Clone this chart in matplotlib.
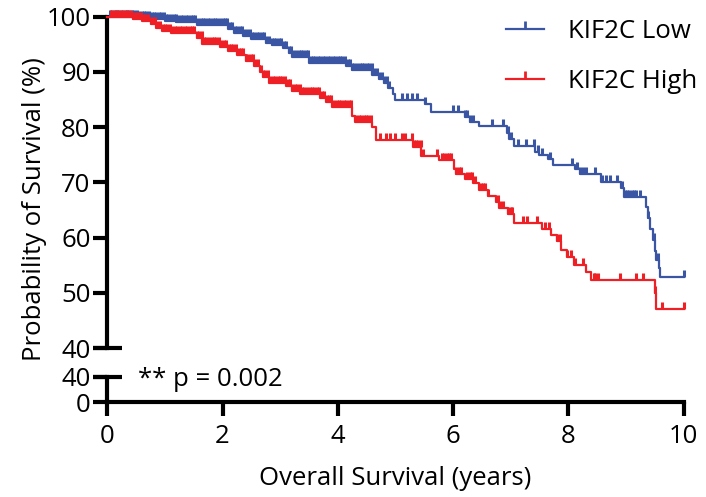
# Kaplan-Meier: KIF2C Low vs High, eje y partido

import matplotlib.pyplot as plt
from matplotlib.lines import Line2D
import numpy as np

plt.rcParams['font.family'] = ['Open Sans', 'DejaVu Sans']

# Curva KIF2C Low (tiempo en años, supervivencia en %)
low_t = [0, 0.55, 0.75, 1.0, 1.2, 1.55, 2.1, 2.2, 2.35, 2.5, 2.75, 2.85, 3.05, 3.15,
         3.2, 3.5, 4.15, 4.25, 4.6, 4.72, 4.8, 4.88, 4.95, 5.0, 5.52, 5.62, 6.2, 6.3,
         6.45, 6.93, 6.97, 7.05, 7.43, 7.5, 7.64, 7.73, 8.12, 8.2, 8.56, 8.92, 8.96,
         9.35, 9.38, 9.42, 9.47, 9.5, 9.53, 9.57, 9.6, 10.0]
low_s = [100, 99.8, 99.6, 99.3, 99.0, 98.5, 97.8, 97.0, 96.5, 96.0, 95.3, 94.9, 94.3, 93.4,
         92.7, 91.6, 91.0, 90.3, 89.5, 88.8, 88.0, 87.0, 86.0, 85.0, 84.2, 82.8, 81.8, 81.0,
         80.2, 79.0, 77.8, 76.5, 75.5, 75.0, 74.2, 73.2, 72.4, 71.6, 70.0, 68.9, 67.3,
         65.5, 63.5, 61.5, 59.5, 57.5, 55.9, 54.5, 52.8, 52.8]
low_cens = [0.05, 0.09, 0.13, 0.17, 0.21, 0.26, 0.3, 0.34, 0.38, 0.42, 0.47, 0.51, 0.55,
            0.6, 0.64, 0.68, 0.72, 0.77, 0.81, 0.85, 0.89, 0.94, 0.98, 1.02, 1.06, 1.11,
            1.15, 1.19, 1.23, 1.28, 1.32, 1.36, 1.4, 1.45, 1.49, 1.53, 1.57, 1.62, 1.66,
            1.7, 1.74, 1.79, 1.83, 1.87, 1.91, 1.96, 2.0, 2.04, 2.08, 2.13, 2.17, 2.21,
            2.25, 2.3, 2.34, 2.38, 2.42, 2.47, 2.51, 2.55, 2.59, 2.64, 2.68, 2.72, 2.76,
            2.81, 2.85, 2.89, 2.93, 2.98, 3.02, 3.06, 3.1, 3.15, 3.19, 3.23, 3.27, 3.32,
            3.36, 3.4, 3.44, 3.49, 3.53, 3.57, 3.61, 3.66, 3.7, 3.74, 3.78, 3.83, 3.87,
            3.91, 3.95, 4.0, 4.04, 4.08, 4.12, 4.17, 4.21, 4.25, 4.29, 4.34, 4.38, 4.42,
            4.46, 4.51, 4.55, 4.59, 4.63, 4.68, 4.72, 4.76, 4.8, 4.85, 4.89,
            5.12, 5.2, 5.28, 5.38, 5.52, 6.0, 6.09, 6.2, 6.25, 6.3, 6.35, 6.68, 6.87,
            6.95, 7.0, 7.12, 7.26, 7.4, 7.48, 7.55, 7.69, 8.07, 8.16, 8.2, 8.25, 8.3,
            8.47, 8.59, 8.65, 8.73, 8.85, 8.94, 8.98, 9.02, 9.06, 9.1, 9.14, 9.18, 9.25,
            9.38, 9.48, 9.55, 10.0]

# Curva KIF2C High
high_t = [0, 0.45, 0.6, 0.75, 0.85, 0.95, 1.1, 1.55, 1.65, 1.95, 2.1, 2.25, 2.4, 2.55,
          2.65, 2.7, 2.8, 3.1, 3.2, 3.35, 3.7, 3.8, 3.9, 4.25, 4.3, 4.6, 4.67, 5.3, 5.45,
          5.75, 6.02, 6.05, 6.2, 6.35, 6.45, 6.6, 6.75, 6.8, 6.95, 7.05, 7.55, 7.7, 7.8,
          7.88, 7.98, 8.1, 8.3, 8.4, 9.5, 9.53, 10.0]
high_s = [100, 99.6, 99.2, 98.6, 98.0, 97.4, 97.0, 96.2, 95.0, 94.5, 93.8, 93.0, 92.0, 91.0,
          90.0, 89.0, 88.0, 87.4, 86.6, 86.0, 85.3, 84.5, 83.6, 82.0, 81.0, 80.0, 77.6, 76.4,
          74.8, 74.0, 72.5, 71.5, 70.6, 69.8, 68.7, 67.6, 66.5, 65.3, 64.3, 62.7, 61.6,
          60.5, 59.3, 57.8, 56.5, 55.0, 53.8, 52.4, 50.0, 47.0, 47.0]
high_cens = [0.07, 0.11, 0.15, 0.19, 0.24, 0.28, 0.32, 0.36, 0.41, 0.45, 0.49, 0.53, 0.58,
             0.62, 0.66, 0.7, 0.75, 0.79, 0.83, 0.87, 0.92, 0.96, 1.0, 1.04, 1.09, 1.13,
             1.17, 1.21, 1.26, 1.3, 1.34, 1.38, 1.43, 1.47, 1.51, 1.55, 1.6, 1.64, 1.68,
             1.72, 1.77, 1.81, 1.85, 1.89, 1.94, 1.98, 2.02, 2.06, 2.11, 2.15, 2.19, 2.23,
             2.28, 2.32, 2.36, 2.4, 2.45, 2.49, 2.53, 2.57, 2.62, 2.66, 2.7, 2.74, 2.79,
             2.83, 2.87, 2.91, 2.96, 3.0, 3.04, 3.08, 3.13, 3.17, 3.21, 3.25, 3.3, 3.34,
             3.38, 3.42, 3.47, 3.51, 3.55, 3.59, 3.64, 3.68, 3.72, 3.76, 3.81, 3.85, 3.89,
             3.93, 3.98, 4.02, 4.06, 4.1, 4.15, 4.19, 4.23, 4.32, 4.36, 4.4, 4.45, 4.49,
             4.53, 4.57, 4.74, 4.83, 4.91, 5.0, 5.12, 5.17, 5.28, 5.32, 5.36, 5.4, 5.44,
             5.48, 5.73, 5.81, 5.85, 5.89, 5.93, 5.97, 6.06, 6.1, 6.14, 6.25, 6.29, 6.33,
             6.38, 6.48, 6.52, 6.56, 6.6, 6.78, 6.82, 6.86, 6.96, 7.0, 7.03, 7.22, 7.29,
             7.46, 7.6, 7.66, 7.81, 7.86, 7.98, 8.04, 8.12, 8.26, 8.44, 8.47, 8.52, 8.9,
             9.17, 9.29, 9.51, 9.63, 10.0]

etiquetas = ['KIF2C Low', 'KIF2C High']
colores = ['#3A55A4', '#EE1F25']
x_ticks = [0, 2, 4, 6, 8, 10]
y_ticks_sup = [40, 50, 60, 70, 80, 90, 100]
y_ticks_inf = [0, 40]

W, H = 706, 497
fig = plt.figure(figsize=(W / 100, H / 100), dpi=100)
ax = fig.add_axes([107.3 / W, 1 - 348 / H, 576.2 / W, 331.3 / H])
ax2 = fig.add_axes([107.3 / W, 1 - 402 / H, 576.2 / W, 25 / H])

lw_eje = 3.0
fs = 18.5

for t, s, cens, col in [(low_t, low_s, low_cens, colores[0]),
                        (high_t, high_s, high_cens, colores[1])]:
    t = np.array(t)
    s = np.array(s)
    ax.step(t, s, where='post', color=col, lw=1.6, clip_on=False, zorder=3)
    idx = np.searchsorted(t, cens, side='right') - 1
    idx = np.clip(idx, 0, len(s) - 1)
    ax.plot(cens, s[idx], ls='none', marker=2, ms=5, mew=2.2, color=col,
            clip_on=False, zorder=3)

ax.set_xlim(0, 10)
ax.set_ylim(40, 100)
ax.set_yticks(y_ticks_sup)
ax.set_xticks([])
for sp in ['top', 'right', 'bottom']:
    ax.spines[sp].set_visible(False)
ax.spines['left'].set_linewidth(lw_eje)
ax.tick_params(axis='y', length=10, width=lw_eje, labelsize=fs, pad=2)
# remate del corte en 40
ax.axhline(40, xmin=-0.025, xmax=0.025, color='black', lw=lw_eje, clip_on=False,
           solid_capstyle='butt')

ax2.set_xlim(0, 10)
ax2.set_ylim(0, 40)
ax2.set_yticks(y_ticks_inf)
ax2.set_xticks(x_ticks)
for sp in ['top', 'right']:
    ax2.spines[sp].set_visible(False)
ax2.spines['left'].set_linewidth(lw_eje)
ax2.spines['bottom'].set_linewidth(lw_eje)
ax2.tick_params(axis='both', length=10, width=lw_eje, labelsize=fs, pad=2)
ax2.tick_params(axis='x', pad=6)
ax2.axhline(40, xmin=-0.025, xmax=0.025, color='black', lw=lw_eje, clip_on=False,
            solid_capstyle='butt')
ax2.set_xlabel('Overall Survival (years)', fontsize=fs, labelpad=12)

fig.text(35 / W, 1 - 209 / H, 'Probability of Survival (%)', rotation=90,
         ha='center', va='center', fontsize=fs)
fig.text(138 / W, 1 - 386 / H, '** p = 0.002', ha='left', va='baseline', fontsize=fs)

handles = [Line2D([0], [0], color=c, lw=1.6, marker=2, ms=6, mew=2) for c in colores]
ax.legend(handles, etiquetas, loc='upper left', bbox_to_anchor=(493 / W, 1 - 6 / H),
          bbox_transform=fig.transFigure, frameon=False, fontsize=fs, numpoints=1,
          handlelength=1.5, handletextpad=0.9, labelspacing=0.98, borderpad=0)

fig.savefig('out.png', dpi=100)
